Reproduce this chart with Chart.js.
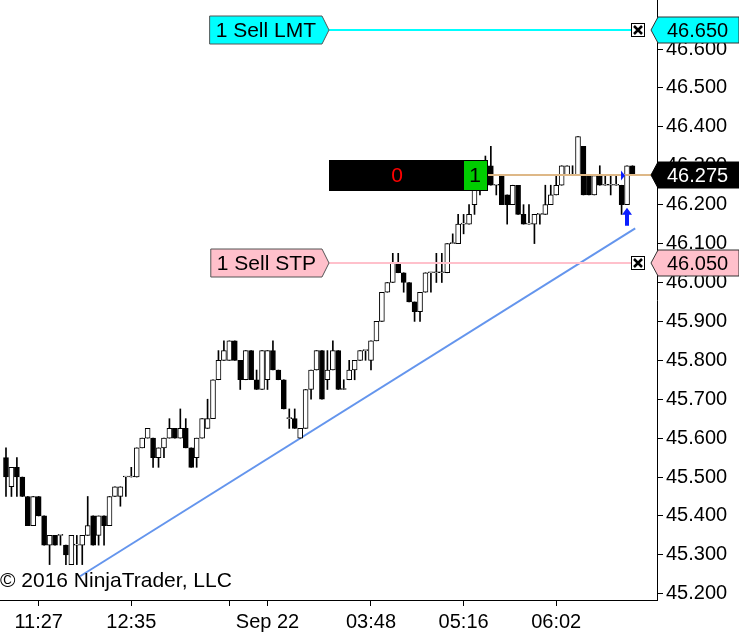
<!DOCTYPE html>
<html>
<head>
<meta charset="utf-8">
<style>
html, body { margin: 0; padding: 0; background: #fff; overflow: hidden; }
#wrap { width: 739px; height: 636px; }
</style>
<script src="https://cdn.jsdelivr.net/npm/chart.js@4.4.0/dist/chart.umd.min.js"></script>
</head>
<body>
<div id="wrap"><canvas id="priceChart" width="739" height="636"></canvas></div>
<script>
// OHLC bars, one entry per bar (oldest first)
const opens = [45.55, 45.475, 45.525, 45.50, 45.45, 45.375, 45.45, 45.40, 45.325, 45.35,
  45.35, 45.325, 45.275, 45.325, 45.325, 45.35, 45.40, 45.35, 45.40, 45.375,
  45.45, 45.45, 45.50, 45.50, 45.50, 45.575, 45.60, 45.60, 45.55, 45.575,
  45.60, 45.625, 45.60, 45.625, 45.575, 45.55, 45.60, 45.625, 45.65, 45.75,
  45.80, 45.80, 45.85, 45.80, 45.75, 45.825, 45.75, 45.725, 45.75, 45.825,
  45.775, 45.75, 45.65, 45.65, 45.60, 45.625, 45.725, 45.775, 45.825, 45.75,
  45.775, 45.825, 45.725, 45.75, 45.775, 45.80, 45.825, 45.80, 45.85, 45.90,
  45.975, 46.00, 46.05, 46.025, 46.00, 45.95, 45.925, 45.975, 46.025, 46.025,
  46.025, 46.025, 46.10, 46.10, 46.15, 46.15, 46.20, 46.25, 46.275, 46.30,
  46.25, 46.275, 46.225, 46.20, 46.25, 46.175, 46.15, 46.15, 46.175, 46.175,
  46.20, 46.225, 46.25, 46.275, 46.275, 46.275, 46.35, 46.275, 46.225, 46.275,
  46.25, 46.25, 46.25, 46.25, 46.20, 46.30];
const highs = [45.575, 45.525, 45.55, 45.50, 45.45, 45.45, 45.45, 45.40, 45.35, 45.35,
  45.35, 45.325, 45.35, 45.35, 45.35, 45.45, 45.40, 45.40, 45.40, 45.45,
  45.475, 45.475, 45.50, 45.525, 45.575, 45.60, 45.625, 45.60, 45.575, 45.60,
  45.65, 45.625, 45.675, 45.65, 45.575, 45.60, 45.65, 45.70, 45.75, 45.825,
  45.85, 45.85, 45.85, 45.80, 45.825, 45.825, 45.775, 45.825, 45.825, 45.85,
  45.775, 45.75, 45.675, 45.675, 45.625, 45.725, 45.775, 45.825, 45.825, 45.825,
  45.85, 45.825, 45.75, 45.80, 45.80, 45.825, 45.825, 45.85, 45.90, 45.975,
  46.00, 46.075, 46.075, 46.025, 46.00, 45.95, 45.975, 46.025, 46.025, 46.075,
  46.075, 46.10, 46.125, 46.175, 46.175, 46.20, 46.275, 46.30, 46.325, 46.35,
  46.25, 46.275, 46.225, 46.25, 46.25, 46.20, 46.20, 46.175, 46.175, 46.25,
  46.25, 46.275, 46.30, 46.30, 46.30, 46.375, 46.35, 46.275, 46.275, 46.30,
  46.275, 46.275, 46.275, 46.25, 46.30, 46.30];
const lows = [45.45, 45.45, 45.45, 45.45, 45.375, 45.375, 45.40, 45.325, 45.275, 45.325,
  45.325, 45.275, 45.275, 45.275, 45.275, 45.35, 45.325, 45.325, 45.325, 45.375,
  45.45, 45.425, 45.45, 45.50, 45.50, 45.575, 45.60, 45.525, 45.525, 45.55,
  45.60, 45.60, 45.60, 45.575, 45.525, 45.525, 45.60, 45.625, 45.65, 45.75,
  45.80, 45.80, 45.80, 45.725, 45.75, 45.75, 45.725, 45.725, 45.725, 45.775,
  45.75, 45.675, 45.625, 45.625, 45.60, 45.625, 45.70, 45.775, 45.70, 45.725,
  45.775, 45.725, 45.725, 45.75, 45.75, 45.80, 45.80, 45.775, 45.85, 45.90,
  45.975, 46.00, 46.025, 45.975, 45.95, 45.90, 45.90, 45.975, 45.975, 46.00,
  46.00, 46.025, 46.10, 46.10, 46.125, 46.15, 46.175, 46.225, 46.25, 46.25,
  46.225, 46.20, 46.15, 46.20, 46.175, 46.15, 46.15, 46.10, 46.15, 46.175,
  46.20, 46.225, 46.25, 46.275, 46.275, 46.275, 46.225, 46.225, 46.225, 46.25,
  46.25, 46.225, 46.25, 46.175, 46.20, 46.275];
const closes = [45.50, 45.525, 45.50, 45.45, 45.375, 45.45, 45.40, 45.325, 45.35, 45.325,
  45.35, 45.30, 45.35, 45.325, 45.35, 45.375, 45.325, 45.40, 45.375, 45.45,
  45.475, 45.475, 45.50, 45.50, 45.575, 45.60, 45.625, 45.55, 45.575, 45.60,
  45.625, 45.60, 45.625, 45.575, 45.525, 45.60, 45.65, 45.65, 45.75, 45.80,
  45.825, 45.85, 45.80, 45.75, 45.825, 45.75, 45.725, 45.825, 45.825, 45.775,
  45.75, 45.675, 45.65, 45.625, 45.625, 45.725, 45.775, 45.825, 45.70, 45.775,
  45.825, 45.725, 45.725, 45.775, 45.80, 45.825, 45.825, 45.85, 45.90, 45.975,
  46.00, 46.05, 46.025, 46.00, 45.95, 45.925, 45.975, 46.025, 46.025, 46.025,
  46.025, 46.10, 46.10, 46.15, 46.15, 46.175, 46.25, 46.275, 46.30, 46.25,
  46.25, 46.20, 46.20, 46.25, 46.175, 46.15, 46.15, 46.175, 46.175, 46.20,
  46.225, 46.25, 46.30, 46.30, 46.275, 46.375, 46.225, 46.225, 46.275, 46.25,
  46.25, 46.25, 46.25, 46.20, 46.30, 46.275];

// time axis
const timeTickBars = [6, 23, 41, 48, 67, 84, 101];
const timeTickLabels = ['11:27', '12:35', '', 'Sep 22', '03:48', '05:16', '06:02'];
// price axis
const priceTicks = [45.2, 45.3, 45.4, 45.5, 45.6, 45.7, 45.8, 45.9, 46.0, 46.1, 46.2, 46.3, 46.4, 46.5, 46.6];

// drawn trend line
const trendBars = [13.6, 115.5];
const trendPrices = [45.245, 46.139];

// working orders and position
const orderPrices = [46.65, 46.05];
const orderNames = ['1 Sell LMT', '1 Sell STP'];
const orderFills = ['#00FFFF', '#FFC0CB'];
const orderLineColors = ['#00FFFF', '#FFC0CB'];
const positionPrice = 46.275;
const positionPnl = '0';
const positionQty = '1';
// long entry signal and its fill
const signalBars = [114];
const signalPrices = [46.192];
const fillBars = [114];
const fillPrices = [46.275];

const FONT = '"Liberation Sans", Arial, sans-serif';

const bodies = opens.map((o, i) => ({ x: i, y: [o, closes[i]] }));
const wicks = lows.map((l, i) => ({ x: i, y: [l, highs[i]] }));
const up = i => closes[i] >= opens[i];

function rightFlag(ctx, yp, left, right, fill, stroke, txtColor, text) {
  const h = 26;
  ctx.beginPath();
  ctx.moveTo(left, yp);
  ctx.lineTo(left + 7, yp - h / 2);
  ctx.lineTo(right, yp - h / 2);
  ctx.lineTo(right, yp + h / 2);
  ctx.lineTo(left + 7, yp + h / 2);
  ctx.closePath();
  ctx.fillStyle = fill;
  ctx.fill();
  ctx.strokeStyle = stroke;
  ctx.lineWidth = 1;
  ctx.stroke();
  ctx.fillStyle = txtColor;
  ctx.font = '20px ' + FONT;
  ctx.textAlign = 'left';
  ctx.textBaseline = 'middle';
  ctx.fillText(text, left + 16, yp + 1);
}

function closeBox(ctx, cx, cy) {
  const s = 14;
  ctx.fillStyle = '#fff';
  ctx.fillRect(cx - s / 2, cy - s / 2, s, s);
  ctx.strokeStyle = '#000';
  ctx.lineWidth = 1;
  ctx.strokeRect(cx - s / 2 + 0.5, cy - s / 2 + 0.5, s - 1, s - 1);
  ctx.lineWidth = 2.5;
  ctx.beginPath();
  ctx.moveTo(cx - 4, cy - 4); ctx.lineTo(cx + 4, cy + 4);
  ctx.moveTo(cx + 4, cy - 4); ctx.lineTo(cx - 4, cy + 4);
  ctx.stroke();
}

const overlay = {
  id: 'overlay',
  afterDraw(chart) {
    const { ctx, chartArea: a, scales: { x, y } } = chart;
    const tip = 329;
    ctx.save();

    // order lines with their flags
    orderPrices.forEach((p, k) => {
      const yp = Math.round(y.getPixelForValue(p));
      ctx.strokeStyle = orderLineColors[k];
      ctx.lineWidth = 2;
      ctx.beginPath();
      ctx.moveTo(tip, yp);
      ctx.lineTo(631, yp);
      ctx.stroke();

      ctx.font = '21px ' + FONT;
      const w = ctx.measureText(orderNames[k]).width + 12;
      const h = 28;
      ctx.beginPath();
      ctx.moveTo(tip, yp);
      ctx.lineTo(tip - 7, yp - h / 2);
      ctx.lineTo(tip - 7 - w, yp - h / 2);
      ctx.lineTo(tip - 7 - w, yp + h / 2);
      ctx.lineTo(tip - 7, yp + h / 2);
      ctx.closePath();
      ctx.fillStyle = orderFills[k];
      ctx.fill();
      ctx.strokeStyle = '#555';
      ctx.lineWidth = 1;
      ctx.stroke();
      ctx.fillStyle = '#000';
      ctx.textAlign = 'center';
      ctx.textBaseline = 'middle';
      ctx.fillText(orderNames[k], tip - 7 - w / 2, yp + 1);

      closeBox(ctx, 638, yp);
      rightFlag(ctx, yp, a.right - 6, chart.width, orderFills[k], '#333', '#000', p.toFixed(3));
    });

    // position line and box
    const pp = Math.round(y.getPixelForValue(positionPrice));
    ctx.strokeStyle = '#DEB887';
    ctx.lineWidth = 2;
    ctx.beginPath();
    ctx.moveTo(488, pp);
    ctx.lineTo(a.right, pp);
    ctx.stroke();

    ctx.fillStyle = '#000';
    ctx.fillRect(tip, pp - 15, 488 - tip, 31);
    ctx.fillStyle = '#00CC00';
    ctx.fillRect(464, pp - 14, 23, 29);
    ctx.font = '21px ' + FONT;
    ctx.textAlign = 'center';
    ctx.textBaseline = 'middle';
    ctx.fillStyle = '#FF0000';
    ctx.fillText(positionPnl, 397, pp + 1);
    ctx.fillStyle = '#000';
    ctx.fillText(positionQty, 475, pp + 1);
    rightFlag(ctx, pp, a.right - 6, chart.width, '#000', '#000', '#fff', positionPrice.toFixed(3));

    // entry signal arrow
    ctx.fillStyle = '#0A1EFF';
    signalBars.forEach((b, k) => {
      const sx = Math.round(x.getPixelForValue(b));
      const sy = y.getPixelForValue(signalPrices[k]);
      ctx.beginPath();
      ctx.moveTo(sx, sy);
      ctx.lineTo(sx + 5, sy + 7);
      ctx.lineTo(sx + 2, sy + 7);
      ctx.lineTo(sx + 2, sy + 18);
      ctx.lineTo(sx - 2, sy + 18);
      ctx.lineTo(sx - 2, sy + 7);
      ctx.lineTo(sx - 5, sy + 7);
      ctx.closePath();
      ctx.fill();
    });
    // execution marker
    fillBars.forEach((b, k) => {
      const fx = Math.round(x.getPixelForValue(b));
      const fy = y.getPixelForValue(fillPrices[k]);
      ctx.beginPath();
      ctx.moveTo(fx - 6, fy - 5);
      ctx.lineTo(fx - 2, fy);
      ctx.lineTo(fx - 6, fy + 5);
      ctx.closePath();
      ctx.fill();
    });

    // copyright
    ctx.fillStyle = '#000';
    ctx.font = '21px ' + FONT;
    ctx.textAlign = 'left';
    ctx.textBaseline = 'alphabetic';
    ctx.fillText('\u00A9 2016 NinjaTrader, LLC', 0, 587);
    ctx.restore();
  }
};

new Chart(document.getElementById('priceChart'), {
  type: 'bar',
  data: {
    datasets: [
      {
        label: 'bodies',
        data: bodies,
        order: 0,
        grouped: false,
        barThickness: 5,
        minBarLength: 1,
        borderWidth: 1,
        borderSkipped: false,
        borderColor: '#000',
        backgroundColor: ctx => up(ctx.dataIndex) ? '#fff' : '#000'
      },
      {
        label: 'wicks',
        data: wicks,
        order: 1,
        grouped: false,
        barThickness: 1,
        borderWidth: 0,
        backgroundColor: '#000'
      },
      {
        type: 'line',
        label: 'trend',
        data: trendBars.map((b, i) => ({ x: b, y: trendPrices[i] })),
        order: 2,
        borderColor: '#6495ED',
        borderWidth: 2,
        pointRadius: 0
      }
    ]
  },
  options: {
    responsive: false,
    animation: false,
    layout: { padding: 0 },
    plugins: { legend: { display: false }, tooltip: { enabled: false } },
    scales: {
      x: {
        type: 'linear',
        offset: false,
        min: -1.1,
        max: 119.5,
        grid: { offset: false, drawOnChartArea: false, drawTicks: true, tickLength: 6, color: '#000' },
        border: { display: true, color: '#000', width: 1 },
        ticks: {
          color: '#000',
          font: { family: FONT, size: 20 },
          maxRotation: 0,
          autoSkip: false,
          padding: 4,
          callback: v => {
            const k = timeTickBars.indexOf(v);
            return k >= 0 ? timeTickLabels[k] : '';
          }
        },
        afterBuildTicks: s => { s.ticks = timeTickBars.map(v => ({ value: v })); },
        afterFit: s => { s.height = 36; s.paddingLeft = 0; s.paddingRight = 0; }
      },
      y: {
        type: 'linear',
        position: 'right',
        min: 45.184,
        max: 46.726,
        grid: { drawOnChartArea: false, drawTicks: true, tickLength: 6, color: '#000' },
        border: { display: true, color: '#000', width: 1 },
        ticks: {
          color: '#000',
          font: { family: FONT, size: 20 },
          padding: 3,
          callback: v => Number(v).toFixed(3)
        },
        afterBuildTicks: s => { s.ticks = priceTicks.map(v => ({ value: v })); },
        afterFit: s => { s.width = 82; s.paddingTop = 0; s.paddingBottom = 0; }
      }
    }
  },
  plugins: [overlay]
});
</script>
</body>
</html>
